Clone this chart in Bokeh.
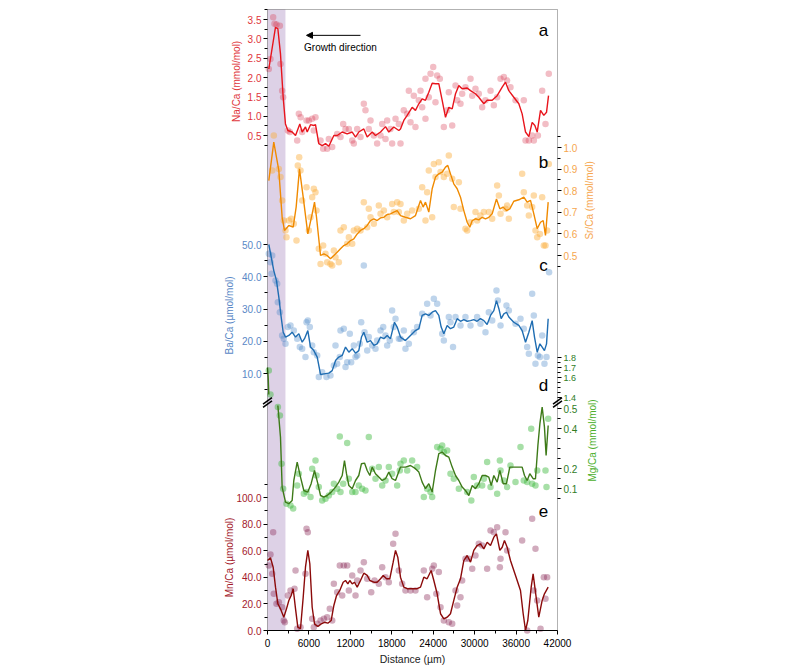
import math
from bokeh.plotting import figure
from bokeh.models import (Range1d, LinearAxis, FixedTicker, PrintfTickFormatter,
                          BoxAnnotation, Label, Arrow, NormalHead)
from bokeh.embed import file_html
from bokeh.resources import INLINE

FONT = "Liberation Sans"

# ---------------- data (distance in µm) ----------------
# Na/Ca (mmol/mol)
na_x = [190, 430, 820, 1010, 1300, 1790, 1880, 2120, 2270, 2950, 3230, 4300, 4540, 4800, 5020, 5650, 5990, 6470, 6700, 6950,
        7680, 8060, 8640, 8880, 9370, 10090, 10570, 10960, 11300, 11780, 12270, 12500, 12990, 13470, 13950, 14190, 14670, 14920, 15400, 15880,
        16370, 16610, 17090, 17330, 17810, 18050, 18540, 19020,
        19260, 19740, 20230, 20470, 20710, 21190, 21430, 21920, 22160, 22400, 22880, 22880, 23360, 23610, 24000, 24330, 24570, 24960, 25540, 26020,
        26260, 26750, 27230, 27470, 27950, 28190, 28670, 29400, 29650, 30120, 30600, 31090, 31570, 32300, 32780, 33260, 33750, 34230, 34710, 35190,
        35920, 37120, 37370, 37850, 38330, 38570, 39160, 39780, 40260, 40740]
na_y = [2.22, 2.48, 3.56, 3.39, 3.37, 3.34, 2.35, 1.66, 1.49, 0.63, 0.59, 0.37, 1.06, 0.97, 0.59, 0.89, 0.89, 0.93, 0.63, 0.97,
        0.37, 0.16, 0.16, 0.41, 0.20, 0.54, 0.46, 0.80, 0.67, 0.67, 0.37, 0.29, 0.67, 0.46, 1.32, 1.15, 0.67, 0.89, 0.50, 0.29,
        0.50, 0.80, 0.41, 0.89, 0.67, 0.29, 0.93, 0.80,
        0.29, 1.15, 1.06, 1.66, 0.84, 1.53, 0.72, 1.41, 1.66, 1.23, 0.93, 1.97, 1.49, 2.10, 2.27, 1.36, 2.05, 1.97, 0.72, 1.15,
        1.62, 0.76, 1.79, 1.41, 1.32, 1.58, 1.75, 1.97, 1.53, 1.71, 1.58, 1.23, 1.41, 1.66, 1.28, 1.49, 1.97, 2.01, 1.92, 1.75,
        1.41, 1.41, 0.37, 0.37, 0.50, 0.37, 0.50, 1.66, 0.80, 2.10]
na_line_x = [190, 1160, 1500, 1880, 2270, 2600, 2950, 3570, 4060, 4680, 5020, 5500, 5750, 6230, 6710, 6950, 7430, 7920, 8400, 8880,
             9610, 10090, 10820, 11540, 12270, 12750, 13220, 13950, 14440, 15160, 15640, 16370, 17090, 17570, 18290, 19020, 19260, 19740, 20230, 20950,
             21430, 21920, 22400, 22880, 23360, 23850, 24330, 24810, 25300, 25780, 26260, 26750, 27230, 27710, 28190, 28920, 29400, 30120, 30600, 31330,
             31810, 32540, 33260, 33990, 34470, 34950, 35670, 36400, 36880, 37370, 37850, 38330, 38720, 39060, 39540, 40020, 40410, 40700]
na_line_y = [2.22, 3.30, 3.26, 2.61, 1.49, 0.80, 0.63, 0.59, 0.50, 0.80, 0.59, 0.72, 0.59, 0.78, 0.76, 0.78, 0.29, 0.24, 0.29, 0.22,
             0.50, 0.50, 0.59, 0.54, 0.59, 0.46, 0.59, 0.67, 0.46, 0.59, 0.50, 0.59, 0.73, 0.59, 0.72, 0.63, 0.67, 0.89, 1.02, 1.23,
             1.15, 1.32, 1.45, 1.41, 1.62, 1.85, 1.84, 1.84, 1.41, 0.97, 1.23, 1.19, 1.58, 1.79, 1.71, 1.73, 1.66, 1.58, 1.49, 1.32,
             1.41, 1.41, 1.53, 1.75, 1.88, 1.66, 1.49, 1.32, 1.06, 0.59, 0.47, 0.84, 0.76, 0.59, 1.15, 1.02, 1.10, 1.53]

# Sr/Ca (mmol/mol)
sr_x = [915, 680, 1640, 1880, 2120, 2360, 2610, 2750, 3090, 3430, 3810, 4200, 4390, 4590, 4780, 5020, 5650, 5990, 6230, 6470,
        6710, 6950, 7100, 7430, 7680, 8060, 8400, 8640, 9120, 9370, 9610, 9850, 10330, 10570, 11050, 11540, 11780, 12270, 12500, 12990,
        13470, 13950, 14440, 14670, 14920, 15400, 16120, 16370, 16850, 17330, 18050, 18290, 18780, 19020,
        19260, 19740, 20230, 20950, 21920, 22400, 22880, 23120, 23360, 23850, 24090, 24330, 24810, 25060, 25540, 26020, 26260, 26750, 26980, 27710,
        27950, 28670, 28920, 29400, 30120, 30360, 30840, 31330, 32050, 32540, 33260, 33510, 33750, 34470, 34710, 34950, 36880, 37120, 37610, 37850,
        38330, 38570, 38810, 39060, 39450, 39780, 40020, 40260, 40500, 40740]
sr_y = [1.056, 0.894, 0.901, 0.863, 0.755, 0.662, 0.616, 0.585, 0.662, 0.670, 0.647, 0.569, 0.917, 0.955, 0.894, 0.755, 0.816, 0.616, 0.677, 0.770,
        0.809, 0.793, 0.708, 0.531, 0.461, 0.546, 0.508, 0.469, 0.461, 0.454, 0.523, 0.492, 0.469, 0.616, 0.631, 0.554, 0.585, 0.554, 0.616, 0.624,
        0.616, 0.747, 0.631, 0.716, 0.677, 0.647, 0.731, 0.693, 0.708, 0.677, 0.739, 0.701, 0.747, 0.701,
        0.739, 0.662, 0.693, 0.708, 0.716, 0.816, 0.662, 0.793, 0.894, 0.677, 0.924, 0.863, 0.932, 0.886, 0.863, 0.878, 0.963, 0.855, 0.724, 0.839,
        0.716, 0.624, 0.616, 0.654, 0.701, 0.662, 0.685, 0.701, 0.701, 0.670, 0.824, 0.778, 0.693, 0.716, 0.731, 0.670, 0.878, 0.793, 0.731, 0.685,
        0.724, 0.778, 0.616, 0.585, 0.600, 0.770, 0.546, 0.546, 0.616, 0.924]
sr_line_x = [190, 910, 1640, 2120, 2460, 3090, 3720, 4150, 4630, 5170, 5840, 6470, 6810, 7100, 7680, 8160, 8640, 9120, 9610, 10090,
             10570, 11050, 11540, 12020, 12500, 12990, 13470, 13950, 14440, 14920, 15400, 15880, 16370, 16850, 17330, 17810, 18290, 18780, 19260, 19980,
             20710, 21430, 22160, 22540, 22880, 23360, 23850, 24330, 24810, 25300, 25780, 26110, 26500, 26980, 27470, 27950, 28430, 28920, 29300, 29650,
             30120, 30600, 31090, 31570, 32050, 32540, 33160, 33650, 34130, 34610, 35090, 35670, 36400, 37120, 37610, 38090, 38570, 39060, 39540, 39930,
             40260, 40650]
sr_line_y = [0.847, 1.025, 0.894, 0.677, 0.616, 0.639, 0.631, 0.724, 0.901, 0.770, 0.600, 0.693, 0.747, 0.677, 0.500, 0.508, 0.500, 0.485, 0.500, 0.515,
             0.531, 0.546, 0.554, 0.569, 0.577, 0.600, 0.616, 0.624, 0.639, 0.662, 0.670, 0.662, 0.674, 0.677, 0.690, 0.693, 0.701, 0.708, 0.685, 0.677,
             0.670, 0.685, 0.755, 0.724, 0.747, 0.701, 0.809, 0.863, 0.878, 0.886, 0.909, 0.917, 0.878, 0.832, 0.809, 0.770, 0.708, 0.654, 0.631, 0.662,
             0.670, 0.665, 0.677, 0.670, 0.677, 0.693, 0.762, 0.716, 0.724, 0.708, 0.716, 0.751, 0.758, 0.770, 0.747, 0.755, 0.693, 0.624, 0.654, 0.662,
             0.593, 0.747]

# Ba/Ca (µmol/mol)
ba_x = [190, 430, 680, 580, 1160, 1400, 1500, 1790, 2120, 2360, 2610, 2950, 3330, 3810, 4300, 4680, 5020, 5500, 5650, 5840,
        6130, 6470, 6710, 7200, 7430, 7920, 8540, 9120, 9610, 9850, 10090, 10470, 10570, 11050, 11300, 11540, 11920, 12120, 12500, 12750,
        12990, 13370, 13570, 13950, 14050, 14440, 14670, 15160, 15640, 15880, 16370, 16760, 17090, 17330, 17710, 18050, 18290, 18540, 19020,
        19260, 19740, 19980, 20470, 21190, 21670, 22400, 23120, 23610, 24090, 24570, 25300, 25540, 26260, 26500, 26870, 27230, 27950, 28670, 29400,
        30360, 30840, 31570, 32050, 32540, 33160, 33360, 33750, 34610, 34950, 35920, 36640, 37120, 37610, 37850, 38330, 38570, 38810, 39160, 39450,
        39780, 40110, 40410, 40780]
ba_y = [47.1, 44.5, 46.6, 40.9, 38.8, 37.8, 32.1, 29.0, 21.8, 20.8, 19.2, 24.4, 24.9, 23.3, 20.8, 18.2, 17.7, 15.1, 25.9, 26.4,
        24.4, 18.7, 16.6, 15.6, 8.9, 10.4, 8.9, 9.4, 12.5, 18.7, 13.0, 15.1, 23.3, 23.9, 12.0, 13.5, 22.3, 13.5, 18.7, 15.1,
        15.6, 19.2, 25.9, 43.5, 22.8, 17.1, 21.3, 18.7, 17.7, 20.2, 23.3, 24.4, 21.8, 18.7, 20.2, 29.5, 24.4, 27.0, 20.8,
        20.8, 23.3, 17.7, 19.2, 22.8, 24.4, 28.5, 31.6, 28.0, 33.2, 31.6, 22.3, 20.2, 27.5, 25.9, 18.2, 27.5, 24.9, 27.5, 24.9,
        27.5, 25.4, 22.8, 29.0, 26.4, 35.7, 32.6, 24.9, 31.1, 29.5, 25.4, 27.0, 23.9, 18.2, 16.1, 34.7, 28.0, 13.0, 15.6, 15.1,
        21.8, 13.0, 15.1, 41.4]
ba_line_x = [190, 540, 910, 1300, 1640, 1980, 2270, 2610, 3090, 3570, 4060, 4540, 5020, 5360, 5840, 6230, 6710, 7200, 7680, 8160,
             8880, 9370, 9850, 10330, 10820, 11300, 11780, 12270, 12750, 13220, 13610, 13950, 14440, 14920, 15400, 15880, 16370, 16850, 17330, 17810,
             18390, 18780, 19260, 19980, 20710, 21430, 21920, 22400, 22880, 23360, 23850, 24330, 24810, 25150, 25540, 26020, 26500, 26980, 27470, 27950,
             28430, 28920, 29400, 29880, 30360, 30840, 31330, 31810, 32300, 32780, 33160, 33510, 33840, 34230, 34610, 34950, 35670, 36400, 36880, 37370,
             37850, 38330, 38670, 39060, 39450, 39780, 40110, 40410, 40650]
ba_line_y = [50.0, 46.1, 41.9, 38.8, 33.7, 27.5, 22.8, 21.3, 21.8, 22.8, 21.3, 22.3, 19.7, 20.8, 23.3, 18.2, 17.1, 15.1, 9.7, 9.9,
             10.1, 10.9, 14.0, 15.1, 15.6, 18.2, 16.6, 17.7, 16.3, 17.1, 21.3, 22.8, 19.7, 20.2, 18.7, 19.2, 21.3, 20.8, 21.8, 20.8,
             25.9, 24.4, 21.3, 20.2, 21.8, 23.3, 23.9, 28.0, 28.5, 28.0, 29.0, 29.5, 28.0, 24.4, 22.3, 24.9, 23.9, 24.4, 27.0, 26.2,
             26.7, 26.2, 26.4, 26.7, 26.2, 27.0, 26.4, 25.2, 28.0, 29.5, 32.6, 30.1, 27.0, 28.5, 29.0, 27.5, 25.9, 24.9, 23.3, 19.7,
             22.8, 26.4, 21.3, 16.6, 19.2, 18.2, 17.1, 19.2, 27.0]

# Mg/Ca (mmol/mol) - upper (broken) segment
mg_hi_x = [190, 430]
mg_hi_y = [1.67, 1.43]
mg_hi_line_x = [0, 100, 190]
mg_hi_line_y = [1.70, 1.60, 1.43]
# Mg/Ca (mmol/mol) - lower segment
mg_x = [1500, 1790, 2030, 2270, 2750, 3330, 3720, 4300, 4540, 5260, 5650, 6230, 6470, 6950, 7100, 7430, 7920, 8400, 8880, 9370,
        9610, 10090, 10470, 10570, 10960, 11540, 11780, 12270, 12750, 13220, 13710, 14190, 14670, 15160, 15640, 16120, 16610, 17090, 17570, 18050,
        18780, 19160,
        19260, 19740, 20230, 20950, 21670, 22640, 23120, 23610, 23850, 24570, 25060, 25300, 25540, 26020, 26500, 26980, 27710, 28920, 29520, 29880,
        30360, 31090, 31330, 31810, 32300, 33260, 33650, 33750, 34230, 34710, 35190, 35920, 36640, 37120, 37610, 38190, 38330, 38810, 39060, 40260,
        40410, 40650]
mg_y = [0.507, 0.465, 0.224, 0.099, 0.024, 0.015, 0.000, 0.115, 0.174, 0.074, 0.082, 0.057, 0.199, 0.240, 0.165, 0.107, 0.040, 0.049, 0.065, 0.082,
        0.124, 0.099, 0.360, 0.082, 0.124, 0.327, 0.149, 0.082, 0.082, 0.115, 0.099, 0.090, 0.357, 0.199, 0.149, 0.207, 0.115, 0.140, 0.207, 0.174,
        0.115, 0.190,
        0.224, 0.240, 0.190, 0.240, 0.207, 0.057, 0.099, 0.082, 0.057, 0.307, 0.299, 0.315, 0.282, 0.290, 0.174, 0.149, 0.099, 0.082, 0.040, 0.157,
        0.115, 0.115, 0.149, 0.232, 0.107, 0.074, 0.240, 0.190, 0.140, 0.107, 0.215, 0.132, 0.307, 0.140, 0.132, 0.399, 0.124, 0.115, 0.190, 0.190,
        0.107, 0.449]
mg_line_x = [1500, 1880, 2120, 2610, 3090, 3570, 3810, 4300, 4780, 5260, 5840, 6320, 6810, 7290, 7680, 8160, 8640, 9220, 9850, 10330,
             10820, 11150, 11440, 11780, 12270, 12750, 13220, 13610, 14050, 14440, 14820, 15160, 15640, 16120, 16610, 17090, 17570, 18050, 18540, 19260,
             19980, 20710, 21430, 21920, 22400, 22880, 23360, 23850, 24330, 24810, 25300, 25780, 26260, 26750, 27230, 27710, 28190, 28670, 29160, 29650,
             30120, 30600, 31090, 31570, 32050, 32400, 32780, 33260, 33650, 34130, 34610, 35090, 35920, 36880, 37220, 37610, 37990, 38470, 38810, 39160,
             39450, 39780, 40110, 40350, 40650]
mg_line_y = [0.515, 0.357, 0.107, 0.032, 0.024, 0.040, 0.140, 0.232, 0.157, 0.090, 0.082, 0.124, 0.190, 0.124, 0.065, 0.057, 0.065, 0.082, 0.107, 0.132,
             0.165, 0.240, 0.174, 0.115, 0.099, 0.140, 0.165, 0.224, 0.227, 0.190, 0.165, 0.207, 0.174, 0.157, 0.140, 0.149, 0.182, 0.149, 0.140, 0.207,
             0.207, 0.215, 0.199, 0.182, 0.132, 0.099, 0.124, 0.082, 0.190, 0.274, 0.282, 0.265, 0.257, 0.207, 0.165, 0.140, 0.107, 0.090, 0.065, 0.115,
             0.099, 0.124, 0.165, 0.165, 0.157, 0.115, 0.165, 0.132, 0.190, 0.124, 0.124, 0.207, 0.207, 0.207, 0.165, 0.140, 0.174, 0.149, 0.149, 0.315,
             0.424, 0.507, 0.407, 0.265, 0.415]

# Mn/Ca (µmol/mol)
mn_x = [430, 820, 190, 680, 910, 1300, 1640, 2120, 2360, 2510, 2950, 3330, 3910, 4060, 4300, 4780, 5650, 5840, 5500, 6470,
        6710, 7200, 7680, 8160, 8640, 9020, 9370, 9610, 10090, 10470, 10820, 11050, 11540, 11780, 12270, 12750, 12990, 13470, 13950, 14440,
        15020, 15500, 16120, 16610, 17090, 17570, 18200, 18540, 19020,
        19500, 19980, 20710, 21430, 22640, 23120, 23850, 24090, 24810, 24450, 25060, 25540, 26260, 26750, 27230, 27470, 27950, 28190, 28670, 29160,
        29650, 30120, 30600, 31090, 31810, 32300, 32780, 33260, 33650, 33750, 34470, 34710, 36880, 37610, 38330, 38570, 38810, 39060, 39540, 40020,
        40500, 40260]
mn_y = [57.2, 73.9, 48.9, 42.6, 27.6, 20.1, 21.3, 17.5, 7.5, 6.2, 26.3, 30.1, 31.4, 45.1, 1.3, 2.5, 76.5, 73.9, 42.6, 8.8,
        2.5, 5.0, 7.5, 8.8, 10.0, 16.3, 7.5, 35.1, 28.8, 48.9, 26.3, 48.9, 48.9, 30.1, 41.4, 26.3, 37.6, 45.1, 51.4, 38.9,
        28.8, 37.6, 35.1, 47.6, 40.1, 36.3, 65.2, 72.7, 45.1,
        35.1, 30.1, 30.1, 30.1, 45.1, 25.0, 46.4, 48.9, 43.9, 27.6, 17.5, 7.5, 6.2, 5.0, 30.1, 18.8, 25.0, 37.6, 53.9, 53.9,
        46.4, 56.4, 65.2, 63.9, 46.4, 75.2, 73.9, 77.7, 47.6, 53.9, 73.9, 60.2, 67.7, 0.0, 84.0, 30.1, 61.4, 22.6, 1.3, 40.1,
        40.1, 23.8]
mn_line_x = [0, 430, 820, 1160, 1500, 1880, 2360, 2750, 3090, 3430, 3720, 4060, 4390, 4780, 5170, 5500, 5840, 6130, 6470, 6810,
             7290, 7780, 8250, 8740, 9220, 9610, 10000, 10470, 10960, 11300, 11640, 11920, 12270, 12600, 12990, 13470, 13950, 14440, 14820, 15400,
             15880, 16370, 16760, 17240, 17710, 18200, 18540, 18870, 19260, 19740, 20230, 20950, 21670, 22160, 22640, 23120, 23700, 24090, 24570, 25060,
             25540, 26020, 26500, 26980, 27470, 27950, 28430, 28920, 29400, 29880, 30360, 30840, 31330, 31810, 32300, 32780, 33160, 33650, 33990, 34320,
             34710, 35190, 35920, 36640, 37030, 37370, 37700, 38190, 38470, 38810, 39290, 39780, 40110, 40650]
mn_line_y = [52.6, 54.7, 47.6, 32.6, 20.1, 16.3, 10.0, 16.3, 22.6, 26.3, 31.4, 16.3, 2.5, 1.3, 25.0, 47.6, 60.2, 50.2, 17.5, 5.0,
             3.0, 5.0, 6.2, 5.5, 7.5, 18.8, 26.3, 30.1, 36.3, 37.6, 35.1, 37.6, 35.1, 36.3, 32.6, 37.6, 43.1, 41.4, 37.6, 36.3,
             36.3, 38.9, 41.4, 38.9, 38.9, 51.4, 60.2, 55.1, 40.1, 32.6, 31.4, 31.4, 31.4, 32.6, 40.1, 38.9, 45.1, 37.6, 27.6, 12.6,
             8.8, 10.0, 12.6, 22.6, 32.6, 38.9, 52.6, 56.4, 51.4, 60.2, 63.9, 65.2, 61.4, 66.4, 63.9, 70.2, 72.7, 60.2, 62.6, 67.7,
             62.6, 52.6, 41.4, 30.1, 12.6, 0.0, 7.5, 32.6, 42.6, 28.8, 10.0, 22.6, 27.6, 32.6]

# axis ticks
x_ticks = [0, 6000, 12000, 18000, 24000, 30000, 36000, 42000]
x_minor = [3000, 9000, 15000, 21000, 27000, 33000, 39000]
na_ticks = [0.5, 1.0, 1.5, 2.0, 2.5, 3.0, 3.5]
na_minor = [0.25, 0.75, 1.25, 1.75, 2.25, 2.75, 3.25, 3.75]
sr_ticks = [0.5, 0.6, 0.7, 0.8, 0.9, 1.0]
sr_minor = [0.45, 0.55, 0.65, 0.75, 0.85, 0.95, 1.05]
ba_ticks = [10, 20, 30, 40, 50]
ba_minor = [5, 15, 25, 35, 45]
mg_hi_ticks = [1.4, 1.6, 1.7, 1.8]
mg_hi_minor = [1.45, 1.5, 1.55, 1.65, 1.75]
mg_lo_ticks = [0.1, 0.2, 0.4, 0.5]
mg_lo_minor = [0.05, 0.15, 0.25, 0.3, 0.35, 0.45]
mn_ticks = [0, 20, 40, 60, 80, 100]
mn_minor = [10, 30, 50, 70, 90, 110]

# ---------------- layout helpers ----------------
# page px == figure px; the frame covers the whole page so nothing is clipped.
W, H = 800, 667
X0_PX, X1_PX = 267.0, 557.0      # where distance 0 and 42000 sit
XK = 42000.0 / (X1_PX - X0_PX)


def ref_range(v_hi, px_hi, v_lo, px_lo):
    k = (v_hi - v_lo) / (px_lo - px_hi)
    return Range1d(start=v_lo - (H - px_lo) * k, end=v_hi + px_hi * k)


ranges = {
    "na": ref_range(3.5, 19, 0.5, 135),
    "sr": ref_range(1.0, 147, 0.5, 255),
    "ba": ref_range(50, 244, 10, 373),
    "mghi": ref_range(1.8, 357, 1.4, 397),
    "mglo": ref_range(0.5, 408, 0.1, 488),
}
mn_range = ref_range(100, 497, 0, 630)
MN_K = 100.0 / (630 - 497)
BOX_TOP_MN = 100 + (497 - 9) * MN_K      # box top edge at y = 9 px
XLABEL_Y_MN = -(658 - 630) * MN_K        # x-axis title at y = 658 px

p = figure(frame_width=W, frame_height=H,
           min_border_left=0, min_border_right=0, min_border_top=0, min_border_bottom=0,
           x_range=Range1d(-X0_PX * XK, (W - X0_PX) * XK), y_range=mn_range, y_axis_location=None,
           output_backend="svg", toolbar_location=None)
p.extra_y_ranges = ranges
p.xgrid.visible = False
p.ygrid.visible = False
p.outline_line_color = None
p.background_fill_color = "white"
p.border_fill_color = "white"

# purple band and the black box
p.add_layout(BoxAnnotation(left=0, right=2600, top=BOX_TOP_MN, bottom=0,
                           fill_color="#ddd1e6", fill_alpha=1.0, line_color=None, level="underlay"))
p.add_layout(BoxAnnotation(left=0, right=42000, top=BOX_TOP_MN, bottom=0,
                           fill_alpha=0.0, line_color="black", line_width=1))

# x axis, fixed at Mn/Ca = 0
xa = p.xaxis[0]
xa.fixed_location = 0
xa.bounds = (0, 42000)
xa.ticker = FixedTicker(ticks=x_ticks, minor_ticks=x_minor)
xa.formatter = PrintfTickFormatter(format="%d")
xa.axis_line_color = "black"
xa.major_tick_in = 0
xa.major_tick_out = 4
xa.minor_tick_in = 0
xa.minor_tick_out = 3
xa.major_label_text_font = FONT
xa.major_label_text_font_size = "10px"
xa.major_label_text_color = "black"
xa.major_label_standoff = 4
p.add_layout(Label(x=21000, y=XLABEL_Y_MN, text="Distance (µm)", text_align="center",
                   text_baseline="middle", text_font=FONT, text_font_size="10.5px",
                   text_color="#222222"))


def add_axis(side, rng, ticks, minor, bounds, color, size="10px"):
    ax = LinearAxis(y_range_name=rng, fixed_location=(0 if side == "left" else 42000))
    ax.ticker = FixedTicker(ticks=ticks, minor_ticks=minor)
    ax.formatter = PrintfTickFormatter(format="%.1f")
    ax.bounds = bounds
    ax.axis_line_color = None
    ax.major_tick_line_color = "black"
    ax.minor_tick_line_color = "black"
    ax.major_tick_in = 0
    ax.major_tick_out = 4
    ax.minor_tick_in = 0
    ax.minor_tick_out = 3
    ax.major_label_text_color = color
    ax.major_label_text_font = FONT
    ax.major_label_text_font_size = size
    ax.major_label_standoff = 2
    p.add_layout(ax, side)


NA_C, SR_C, BA_C, MG_C, MN_C = "#e0353a", "#f6a64e", "#5a88c6", "#2f7d1f", "#a3192b"
add_axis("left", "na", na_ticks, na_minor, (0.25, 3.75), NA_C)
add_axis("right", "sr", sr_ticks, sr_minor, (0.45, 1.05), SR_C)
add_axis("left", "ba", ba_ticks, ba_minor, (5, 50), BA_C)
add_axis("right", "mghi", mg_hi_ticks, mg_hi_minor, (1.4, 1.8), MG_C, size="9px")
add_axis("right", "mglo", mg_lo_ticks, mg_lo_minor, (0.05, 0.5), MG_C)
add_axis("left", "default", mn_ticks, mn_minor, (0, 110), MN_C)


# ---------------- glyphs ----------------
def series(xs, ys, lx, ly, rng, pt_color, pt_alpha, ln_color):
    p.scatter(xs, ys, y_range_name=rng, size=6.5, fill_color=pt_color, fill_alpha=pt_alpha, line_color=None)
    p.line(lx, ly, y_range_name=rng, line_color=ln_color, line_width=1.4)


series(na_x, na_y, na_line_x, na_line_y, "na", "#d8384e", 0.33, "#e8141c")
series(sr_x, sr_y, sr_line_x, sr_line_y, "sr", "#fbae3c", 0.45, "#f08a00")
series(ba_x, ba_y, ba_line_x, ba_line_y, "ba", "#4a88c8", 0.36, "#1f6db2")
series(mg_hi_x, mg_hi_y, mg_hi_line_x, mg_hi_line_y, "mghi", "#3cb83c", 0.45, "#3d7a18")
series(mg_x, mg_y, mg_line_x, mg_line_y, "mglo", "#3cb83c", 0.45, "#3d7a18")
series(mn_x, mn_y, mn_line_x, mn_line_y, "default", "#8c2d5a", 0.4, "#8b0a0a")


# ---------------- axis titles ----------------
def title(text, x, y, rng, color):
    p.add_layout(Label(x=x, y=y, y_range_name=rng, text=text, angle=math.pi / 2,
                       text_align="center", text_baseline="middle", text_color=color,
                       text_font=FONT, text_font_size="10px"))


title("Na/Ca (mmol/mol)", -4500, 1.90, "na", NA_C)
title("Sr/Ca (mmol/mol)", 46630, 0.755, "sr", SR_C)
title("Ba/Ca (µmol/mol)", -5500, 28.0, "ba", BA_C)
title("Mg/Ca (mmol/mol)", 47070, 0.34, "mglo", "#4caf2c")
title("Mn/Ca (µmol/mol)", -5500, 54.9, "default", MN_C)

# panel letters
for txt, yy, rng in [("a", 3.22, "na"), ("b", 0.93, "sr"), ("c", 43.5, "ba"),
                     ("d", 0.615, "mglo"), ("e", 90.2, "default")]:
    p.add_layout(Label(x=39970, y=yy, y_range_name=rng, text=txt, text_align="center",
                       text_baseline="middle", text_font=FONT, text_font_size="17px",
                       text_color="black"))

# growth direction
p.add_layout(Label(x=10570, y=2.78, y_range_name="na", text="Growth direction",
                   text_align="center", text_baseline="middle", text_font=FONT,
                   text_font_size="10px", text_color="black"))
p.add_layout(Arrow(end=NormalHead(size=6, fill_color="black", line_color="black"),
                   x_start=13470, y_start=3.09, x_end=5650, y_end=3.09, y_range_name="na",
                   line_color="black", line_width=1))

# axis break marks (Mg/Ca)
for xb in (0, 42000):
    for yb in (0.522, 0.538):
        p.add_layout(Arrow(start=None, end=None, x_start=xb - 650, y_start=yb - 0.016,
                           x_end=xb + 650, y_end=yb + 0.016, y_range_name="mglo",
                           line_color="black", line_width=1.6))

with open("out.html", "w", encoding="utf-8") as f:
    f.write(file_html(p, INLINE))
